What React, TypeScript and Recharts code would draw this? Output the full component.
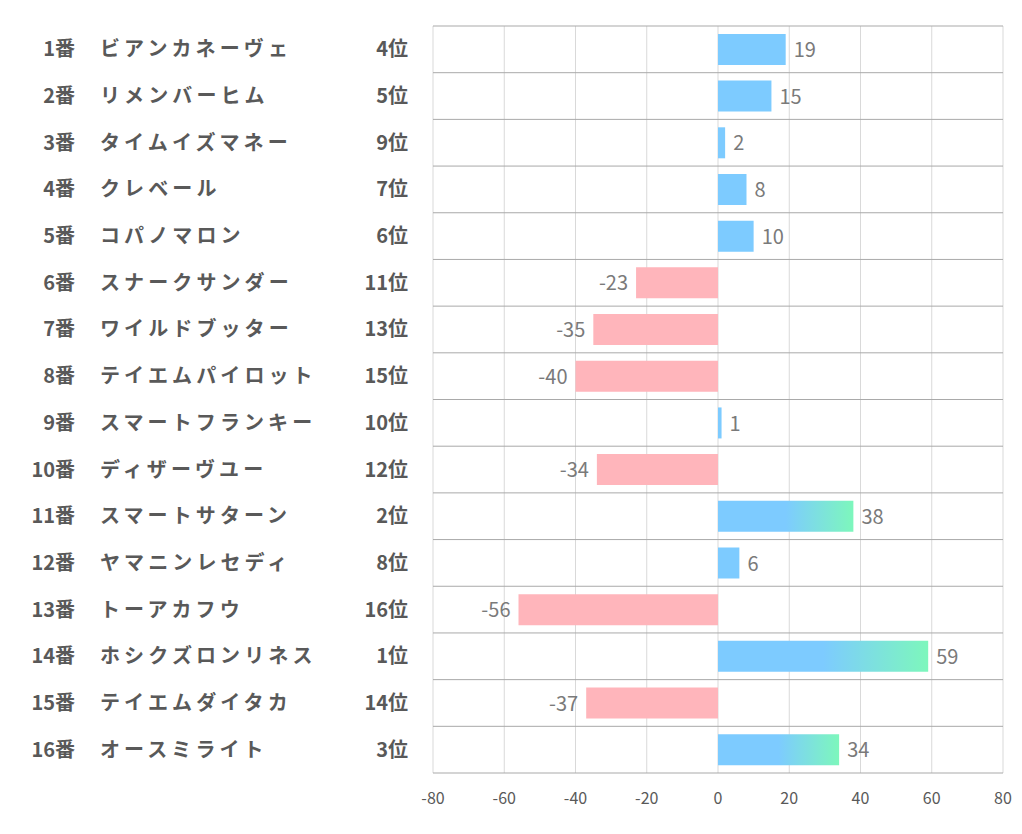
import React from "react";
import { BarChart, Bar, XAxis, YAxis, CartesianGrid, Cell, LabelList } from "recharts";

const horseNumbers = ["1番", "2番", "3番", "4番", "5番", "6番", "7番", "8番", "9番", "10番", "11番", "12番", "13番", "14番", "15番", "16番"];
const horseNames = ["ビアンカネーヴェ", "リメンバーヒム", "タイムイズマネー", "クレベール", "コパノマロン", "スナークサンダー", "ワイルドブッター", "テイエムパイロット", "スマートフランキー", "ディザーヴユー", "スマートサターン", "ヤマニンレセディ", "トーアカフウ", "ホシクズロンリネス", "テイエムダイタカ", "オースミライト"];
const ranks = [4, 5, 9, 7, 6, 11, 13, 15, 10, 12, 2, 8, 16, 1, 14, 3];
const scores = [19, 15, 2, 8, 10, -23, -35, -40, 1, -34, 38, 6, -56, 59, -37, 34];
const xTicks = [-80, -60, -40, -20, 0, 20, 40, 60, 80];

const data = horseNumbers.map((num, i) => ({
  key: num,
  num,
  name: horseNames[i],
  rank: ranks[i],
  score: scores[i],
}));

const BLUE = "#7DCBFF";
const PINK = "#FFB5BB";
const FONT = "'Noto Sans CJK JP', 'Noto Sans', sans-serif";

const LeftTick = (props: any) => {
  const { y, payload } = props;
  const row = data.find((d) => d.key === payload.value);
  if (!row) return null;
  const style = { fontFamily: FONT, fontSize: 20, fontWeight: 700, fill: "#595959" } as any;
  return (
    <g>
      <text x={75} y={y} dy="0.35em" textAnchor="end" style={style}>{row.num}</text>
      <text x={100} y={y} dy="0.35em" textAnchor="start" style={{ ...style, letterSpacing: 4.1 }}>{row.name}</text>
      <text x={408} y={y} dy="0.35em" textAnchor="end" style={style}>{row.rank + "位"}</text>
    </g>
  );
};

const ValueLabel = (props: any) => {
  const { x, y, width, height, value } = props;
  const left = Math.min(x, x + width);
  const right = Math.max(x, x + width);
  const cy = y + height / 2;
  const neg = value < 0;
  return (
    <text
      x={neg ? left - 8 : right + 8}
      y={cy}
      dy="0.38em"
      textAnchor={neg ? "end" : "start"}
      style={{ fontFamily: FONT, fontSize: 20, fill: "#7a7a7a" }}
    >
      {value}
    </text>
  );
};

const rowLines = ({ offset }: any) => {
  const out: number[] = [];
  for (let i = 0; i <= data.length; i++) out.push(offset.top + (offset.height * i) / data.length);
  return out;
};

export default function App() {
  return (
    <div style={{ position: "absolute", left: 0, top: 0, background: "#fff" }}>
      <BarChart
        width={1022}
        height={834}
        data={data}
        layout="vertical"
        margin={{ top: 26, right: 19, bottom: 21, left: 0 }}
        barCategoryGap="17%"
      >
        <defs>
          <linearGradient id="topGrad" x1="0" y1="0" x2="1" y2="0">
            <stop offset="0" stopColor={BLUE} />
            <stop offset="0.5" stopColor={BLUE} />
            <stop offset="1" stopColor="#7DF7BC" />
          </linearGradient>
        </defs>
        <CartesianGrid horizontal={false} vertical={true} stroke="#d9d9d9" />
        <CartesianGrid horizontal={true} vertical={false} stroke="#a9a9a9" horizontalCoordinatesGenerator={rowLines} />
        <XAxis
          type="number"
          domain={[-80, 80]}
          ticks={xTicks}
          height={40}
          axisLine={false}
          tickLine={false}
          tickMargin={14}
          tick={{ fontFamily: FONT, fontSize: 16, fill: "#595959" }}
          interval={0}
        />
        <YAxis
          type="category"
          dataKey="key"
          width={433}
          axisLine={false}
          tickLine={false}
          tick={<LeftTick />}
          interval={0}
        />
        <Bar dataKey="score" isAnimationActive={false}>
          {data.map((d, i) => (
            <Cell key={i} fill={d.score < 0 ? PINK : d.rank <= 3 ? "url(#topGrad)" : BLUE} />
          ))}
          <LabelList dataKey="score" content={<ValueLabel />} />
        </Bar>
      </BarChart>
    </div>
  );
}
